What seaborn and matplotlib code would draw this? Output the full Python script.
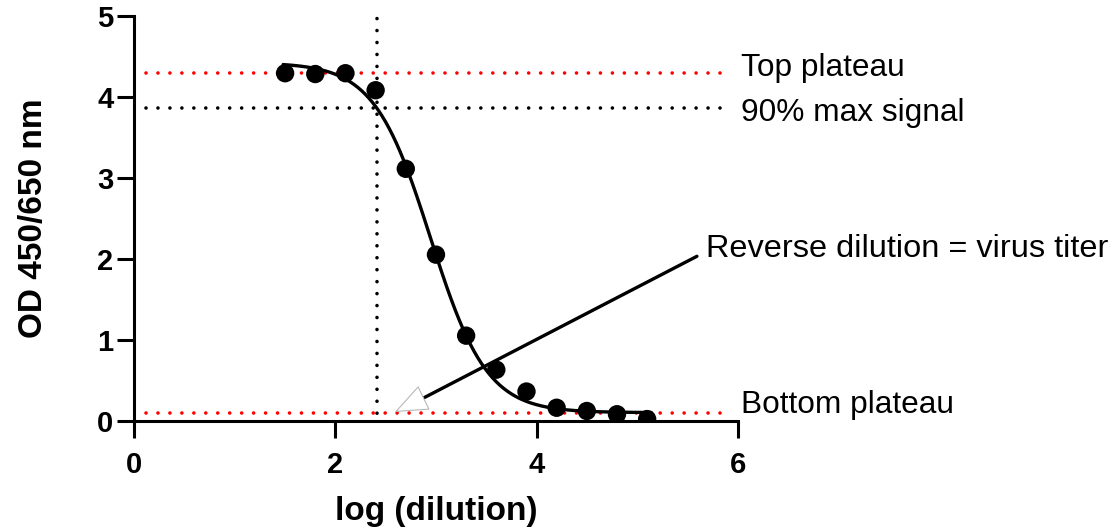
import numpy as np
import pandas as pd
import matplotlib
matplotlib.use("Agg")
import matplotlib.pyplot as plt
import seaborn as sns

# ---- data ----
log_dilution = [1.5, 1.8, 2.1, 2.4, 2.7, 3.0, 3.3, 3.6, 3.9, 4.2, 4.5, 4.8, 5.1]
od_values = [4.29, 4.28, 4.29, 4.08, 3.11, 2.05, 1.05, 0.63, 0.36, 0.16, 0.12, 0.08, 0.02]

# four-parameter logistic fit shown in the chart
fit_top = 4.42
fit_bottom = 0.10
fit_log_ec50 = 2.945
fit_hill = 1.55
fit_range = [1.48, 5.14]

top_plateau = 4.29
max90_signal = 3.86
bottom_plateau = 0.10
titer_log_dilution = 2.418

ref_line_span = [0.12, 5.9]

label_top = "Top plateau"
label_90 = "90% max signal"
label_bottom = "Bottom plateau"
label_titer = "Reverse dilution = virus titer"
x_label = "log (dilution)"
y_label = "OD 450/650 nm"
x_ticks = [0, 2, 4, 6]
y_ticks = [0, 1, 2, 3, 4, 5]

# ---- style ----
sns.set_theme(style="ticks")
plt.rcParams["font.family"] = ["Liberation Sans", "DejaVu Sans"]
plt.rcParams["lines.scale_dashes"] = False
plt.rcParams["text.color"] = "black"
plt.rcParams["axes.labelcolor"] = "black"
plt.rcParams["xtick.color"] = "black"
plt.rcParams["ytick.color"] = "black"

fig = plt.figure(figsize=(11.16, 5.29), dpi=100)
ax = fig.add_axes([0.1203, 0.2047, 0.5407, 0.7656])

df_points = pd.DataFrame({"x": log_dilution, "y": od_values})
x_fit = np.linspace(fit_range[0], fit_range[1], 400)
y_fit = fit_bottom + (fit_top - fit_bottom) / (1 + 10 ** ((x_fit - fit_log_ec50) * fit_hill))
df_fit = pd.DataFrame({"x": x_fit, "y": y_fit})

dot = (0, (0.01, 8.6))
ax.hlines(top_plateau, *ref_line_span, colors="red", linestyles=dot, lw=2.6, zorder=1)
ax.hlines(max90_signal, *ref_line_span, colors="black", linestyles=dot, lw=2.6, zorder=1)
ax.hlines(bottom_plateau, *ref_line_span, colors="red", linestyles=dot, lw=2.6, zorder=1)
ax.vlines(titer_log_dilution, 0, 5, colors="black", linestyles=(3.0, (0.01, 8.6)), lw=2.6, zorder=1)
for coll in ax.collections:
    coll.set_capstyle("round")

sns.lineplot(data=df_fit, x="x", y="y", ax=ax, color="black", lw=2.4, zorder=3)
sns.scatterplot(data=df_points, x="x", y="y", ax=ax, color="black", s=175,
                edgecolor="none", zorder=4)

ax.set_xlim(0, 6)
ax.set_ylim(0, 5)
ax.set_xticks(x_ticks)
ax.set_yticks(y_ticks)
ax.set_xlabel(x_label, fontsize=24, fontweight="bold", labelpad=12, color="black")
ax.set_ylabel(y_label, fontsize=24, fontweight="bold", labelpad=35, color="black")
ax.tick_params(axis="both", which="major", length=12, width=2.2, labelsize=21,
               color="black", labelcolor="black")
ax.tick_params(axis="x", pad=10)
ax.tick_params(axis="y", pad=3)
for lab in ax.get_xticklabels() + ax.get_yticklabels():
    lab.set_fontweight("bold")
sns.despine(ax=ax)
for side in ["left", "bottom"]:
    ax.spines[side].set_linewidth(2.2)
    ax.spines[side].set_color("black")

# annotations
ax.text(6.03, 4.255, label_top, fontsize=22.8, va="baseline", ha="left", color="black")
ax.text(6.03, 3.70, label_90, fontsize=22.8, va="baseline", ha="left", color="black")
ax.text(6.03, 0.095, label_bottom, fontsize=22.8, va="baseline", ha="left", color="black")
ax.text(5.69, 2.02, label_titer, fontsize=23.4, va="baseline", ha="left", color="black")

ax.annotate("", xy=(2.86, 0.27), xytext=(5.595, 2.03),
            arrowprops=dict(arrowstyle="-", color="black", lw=2.4, shrinkA=0, shrinkB=0),
            annotation_clip=False)
ax.annotate("", xy=(2.59, 0.107), xytext=(2.86, 0.27),
            arrowprops=dict(arrowstyle="-|>,head_length=22,head_width=8.9", mutation_scale=1,
                            facecolor="white", edgecolor="#b8b8b8", lw=0.8,
                            shrinkA=0, shrinkB=0),
            annotation_clip=False)

fig.savefig("out.png", dpi=100)
